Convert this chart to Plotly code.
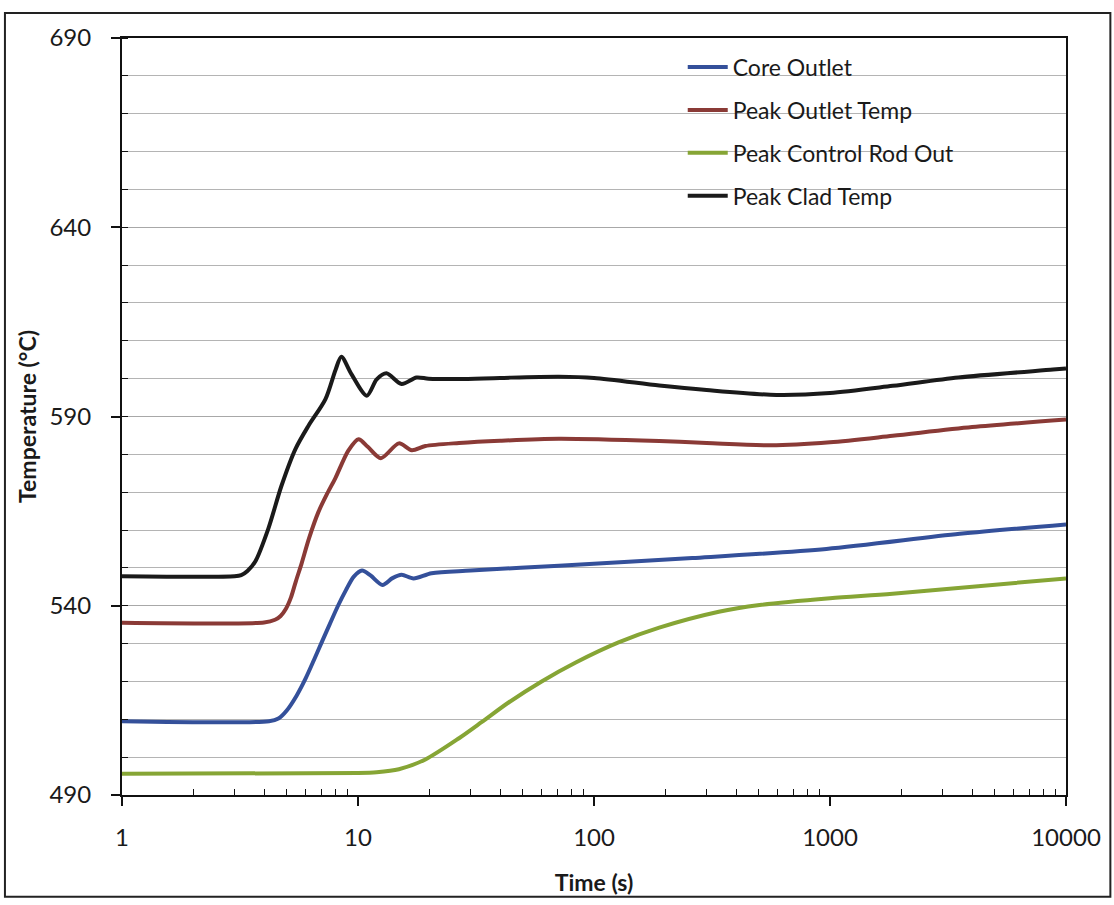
import plotly.graph_objects as go

# ---- data ----
core_x = [1, 4.2, 4.6, 5.0, 5.5, 6.0, 6.5, 7.0, 7.6, 8.2, 8.9, 9.6, 10.4, 11.3, 12.7, 14.0, 15.3, 17.2, 20.5, 30, 71, 261, 966, 3548, 10000]
core_y = [509.5, 509.5, 510.2, 512.4, 516.3, 520.8, 525.6, 530.2, 535.2, 539.8, 544.2, 547.7, 549.3, 548.0, 545.5, 547.3, 548.2, 547.2, 548.6, 549.3, 550.6, 552.6, 555.0, 559.0, 561.5]

outlet_x = [1, 4.0, 4.45, 4.7, 4.95, 5.2, 5.45, 5.77, 6.2, 6.8, 7.4, 8.03, 9.1, 10.05, 11.0, 12.5, 14.9, 16.9, 19.3, 26.8, 40, 71, 189, 300, 560, 1000, 1843, 4000, 10000]
outlet_y = [535.5, 535.6, 536.3, 537.3, 539.2, 542.2, 546.4, 551.2, 557.8, 564.8, 569.6, 573.8, 581.0, 584.0, 582.0, 579.0, 582.9, 581.1, 582.2, 583.0, 583.6, 584.1, 583.5, 583.0, 582.4, 583.2, 584.9, 587.2, 589.2]

rod_x = [1, 10, 12, 14.9, 19.3, 26.8, 33.5, 43.6, 60, 83.7, 127, 189, 338, 503, 1000, 1843, 10000]
rod_y = [495.6, 495.8, 496.0, 496.8, 499.4, 505.0, 509.3, 514.5, 520.0, 525.0, 530.3, 534.2, 538.4, 540.2, 542.0, 543.2, 547.2]

clad_x = [1, 3.0, 3.2, 3.4, 3.67, 4.17, 4.74, 5.43, 6.16, 7.28, 8.03, 8.5, 9.38, 10.9, 12.0, 13.2, 15.3, 17.7, 19.9, 26.7, 40, 71, 100, 189, 300, 593, 1000, 1843, 3500, 8810, 10000]
clad_y = [547.8, 547.8, 548.1, 549.2, 551.7, 560.4, 571.7, 581.4, 587.5, 594.6, 602.3, 605.8, 601.2, 595.5, 599.8, 601.4, 598.6, 600.3, 600.0, 599.9, 600.2, 600.5, 600.2, 598.2, 597.0, 595.7, 596.2, 598.1, 600.3, 602.4, 602.7]

series = [
    ("Core Outlet", core_x, core_y, "#34509a"),
    ("Peak Outlet Temp", outlet_x, outlet_y, "#8a3a36"),
    ("Peak Control Rod Out", rod_x, rod_y, "#86a535"),
    ("Peak Clad Temp", clad_x, clad_y, "#1a1a1a"),
]

y_ticks = [490, 540, 590, 640, 690]
x_ticks = [1, 10, 100, 1000, 10000]
x_tick_text = ["1", "10", "100", "1000", "10000"]

FONT = "Lato, 'Open Sans', sans-serif"

fig = go.Figure()
for i, (name, xs, ys, col) in enumerate(series):
    fig.add_trace(go.Scatter(
        x=xs, y=ys, name=name, mode="lines",
        line=dict(color=col, width=4, shape="spline", smoothing=0.8),
        legendgroup=f"g{i}",
    ))

minor_x = [m * 10 ** p for p in range(4) for m in range(2, 10)]

fig.update_layout(
    width=1114, height=905,
    margin=dict(l=122, r=48, t=38, b=110),
    paper_bgcolor="white", plot_bgcolor="white",
    font=dict(family=FONT, size=24, color="#1a1a1a"),
    showlegend=True,
    legend=dict(
        x=0.594, y=0.99, xanchor="left", yanchor="top",
        bgcolor="rgba(0,0,0,0)", font=dict(size=23, color="#1a1a1a"),
        tracegroupgap=10, itemwidth=40,
    ),
    xaxis=dict(
        type="log", range=[0, 4],
        tickmode="array", tickvals=x_ticks, ticktext=x_tick_text,
        ticks="outside", ticklen=9, tickwidth=1.5, tickcolor="#111",
        showline=True, linecolor="#111", linewidth=2, mirror=True,
        showgrid=False, zeroline=False,
        ticklabelstandoff=11,
        tickfont=dict(size=24),
        minor=dict(tickmode="array", tickvals=minor_x, ticks="inside", ticklen=6,
                   tickwidth=1.2, tickcolor="#111", showgrid=False),
        title=dict(text="<b>Time (s)</b>", font=dict(size=23), standoff=25),
    ),
    yaxis=dict(
        range=[490, 690],
        tickmode="array", tickvals=y_ticks,
        ticks="outside", ticklen=9, tickwidth=1.5, tickcolor="#111",
        showline=True, linecolor="#111", linewidth=2, mirror=True,
        showgrid=True, gridcolor="#a8a8a8", gridwidth=1,
        zeroline=False,
        ticklabelstandoff=15,
        tickfont=dict(size=24),
        minor=dict(dtick=10, tick0=490, ticks="inside", ticklen=6, tickwidth=1.2,
                   tickcolor="#111", showgrid=True, gridcolor="#b4b4b4", gridwidth=1),
        title=dict(text="<b>Temperature (°C)</b>", font=dict(size=23), standoff=6),
    ),
)

# outer chart border
fig.add_shape(type="rect", xref="paper", yref="paper",
              x0=-0.124, x1=1.047, y0=-0.1345, y1=1.033,
              line=dict(color="#222", width=2), fillcolor="rgba(0,0,0,0)", layer="below")

fig.write_html("out.html")
